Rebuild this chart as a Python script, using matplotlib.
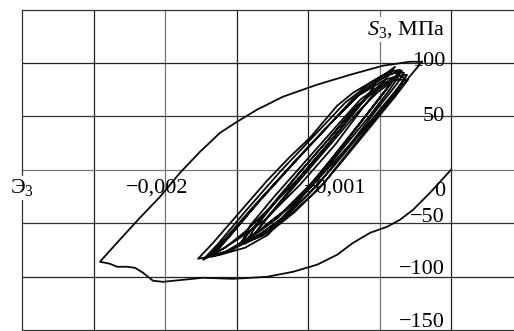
import numpy as np
import matplotlib
matplotlib.use("Agg")
import matplotlib.pyplot as plt

plt.rcParams['font.family'] = ['Liberation Serif', 'DejaVu Serif']
plt.rcParams['mathtext.fontset'] = 'custom'
plt.rcParams['mathtext.rm'] = 'Liberation Serif'
plt.rcParams['mathtext.it'] = 'Liberation Serif:italic'

# strain in units of 1e-3, stress in MPa
# first compression from zero, then reversal up to the peak
first_strain = [0.0, -0.147, -0.266, -0.357, -0.448, -0.566, -0.685, -0.797, -0.937,
                -1.105, -1.287, -1.524, -1.734, -1.874, -2.014, -2.084, -2.154,
                -2.210, -2.266, -2.336, -2.385, -2.455,
                -2.336, -2.175, -2.035, -1.895, -1.755, -1.615, -1.497, -1.357,
                -1.175, -0.937, -0.706, -0.476, -0.287, -0.203]
first_stress = [0.0, -21.5, -37.5, -46.8, -53.4, -59.0, -68.4, -79.6, -88.9,
                -95.5, -100.2, -102.1, -101.1, -103.0, -104.9, -103.9, -96.4,
                -91.8, -90.8, -90.8, -88.0, -86.1,
                -68.4, -44.9, -25.3, -2.8, 16.9, 34.6, 44.9, 56.2,
                68.4, 79.6, 88.9, 97.4, 101.1, 101.1]

# unloading from the peak and the following narrow cycles
cyc_strain = [
    -0.203, -0.308, -0.497, -0.804, -0.979, -1.280, -1.441, -1.615, -1.769,
    -1.664, -1.524, -1.287, -1.126, -0.986, -0.797, -0.685, -0.566, -0.448, -0.392,
    -0.462, -0.601, -0.811, -1.056, -1.301, -1.476, -1.650, -1.734,
    -1.629, -1.441, -1.196, -0.951, -0.741, -0.552, -0.427, -0.357,
    -0.413, -0.552, -0.741, -0.986, -1.210, -1.371, -1.580, -1.713,
    -1.587, -1.371, -1.126, -0.895, -0.692, -0.510, -0.392, -0.329,
    -0.378, -0.510, -0.692, -0.930, -1.140, -1.322, -1.441,
    -1.371, -1.231, -1.056, -0.846, -0.664, -0.497, -0.371, -0.308,
    -0.357, -0.483, -0.650, -0.881, -1.091, -1.266, -1.406,
    -1.322, -1.161, -0.972, -0.776, -0.622, -0.552, -0.531,
    -0.566, -0.692, -0.881, -1.077, -1.266, -1.441, -1.580, -1.685,
    -1.559, -1.350, -1.091, -0.860, -0.650, -0.462, -0.371, -0.322,
    -0.371, -0.469, -0.601, -0.811, -1.021, -1.196, -1.322, -1.490,
    -1.371, -1.182, -0.951, -0.741, -0.566, -0.413, -0.301,
    -0.392, -0.552, -0.741, -0.930, -1.126, -1.280, -1.406,
    -1.266, -1.056, -0.846, -0.650, -0.510, -0.413,
    -0.455, -0.601, -0.790, -1.000, -1.196, -1.350, -1.531, -1.671,
    -1.545, -1.322, -1.070, -0.832, -0.622, -0.441, -0.343,
    -0.399, -0.531, -0.720, -0.951, -1.175, -1.336, -1.462,
    -1.406, -1.231, -1.021, -0.811, -0.636, -0.483, -0.371,
    -0.441, -0.580, -0.776, -0.972, -1.154, -1.301,
]
cyc_stress = [
    101.1, 84.3, 54.3, 9.4, -15.9, -60.9, -73.0, -79.6, -83.3,
    -68.4, -46.8, -10.3, 12.2, 30.0, 59.9, 72.1, 81.5, 90.8, 96.4,
    84.3, 60.9, 23.4, -14.0, -46.8, -63.7, -78.6, -84.3,
    -69.3, -39.3, -1.9, 32.8, 62.7, 82.4, 91.8, 93.6,
    82.4, 58.1, 25.3, -14.0, -44.9, -60.9, -76.8, -81.5,
    -65.5, -32.8, 2.8, 35.6, 65.5, 84.3, 90.8, 90.8,
    80.5, 58.1, 26.2, -14.0, -41.2, -59.0, -69.3,
    -54.3, -30.9, -1.9, 30.0, 59.0, 78.7, 88.0, 88.9,
    78.7, 56.2, 28.1, -11.2, -39.3, -58.1, -66.5,
    -50.6, -24.3, 6.6, 37.5, 62.7, 74.9, 80.5,
    72.1, 51.5, 20.6, -9.4, -35.6, -58.1, -73.0, -80.5,
    -63.7, -30.9, 7.5, 41.2, 69.3, 84.3, 88.0, 86.1,
    76.8, 60.9, 39.3, 4.7, -26.2, -48.7, -61.8, -71.2,
    -52.4, -21.5, 14.0, 46.8, 70.2, 84.3, 84.3,
    68.4, 42.1, 11.2, -18.7, -42.1, -58.1, -65.5,
    -42.1, -9.4, 23.4, 54.3, 73.0, 82.4,
    74.9, 49.6, 16.9, -18.7, -46.8, -61.8, -74.9, -81.5,
    -61.8, -26.2, 11.2, 44.9, 73.0, 88.9, 92.7,
    84.3, 61.8, 30.0, -9.4, -39.3, -56.2, -67.4,
    -52.4, -24.3, 7.5, 39.3, 65.5, 80.5, 86.1,
    73.0, 48.7, 16.9, -15.0, -37.5, -52.4,
]

grid_x = [-2.5, -2.0, -1.5, -1.0, -0.5, 0.0]
grid_x_colors = ['#222222', '#777777', '#222222', '#222222', '#777777', '#222222']
grid_y = [100, 50, 0, -50, -100]
grid_y_colors = ['#222222', '#333333', '#777777', '#333333', '#222222']

x_tick_labels = ['−0,002', '−0,001']
x_tick_pos = [-2.052, -0.811]
y_tick_labels = ['100', '50', '0', '−50', '−100', '−150']
y_tick_pos = [101, 50, -20.6, -44.9, -93.6, -143.3]

fig = plt.figure(figsize=(5.14, 3.31), dpi=100)
ax = fig.add_axes([22 / 514, 1 / 331, 492 / 514, 320.5 / 331])
ax.set_xlim(-3.0, 0.44)
ax.set_ylim(-150, 150)
ax.set_xticks([])
ax.set_yticks([])

for x, c in zip(grid_x, grid_x_colors):
    ax.axvline(x, color=c, lw=0.9, zorder=1)
for y, c in zip(grid_y, grid_y_colors):
    ax.axhline(y, color=c, lw=0.9, zorder=1)

ax.spines['right'].set_visible(False)
for side in ['left', 'top', 'bottom']:
    ax.spines[side].set_color('#333333')
    ax.spines[side].set_linewidth(0.9)

ax.plot(first_strain, first_stress, color='#0a0a0a', lw=1.3, zorder=3,
        solid_joinstyle='round')
ax.plot(cyc_strain, cyc_stress, color='#0a0a0a', lw=1.3, zorder=3,
        solid_joinstyle='round')

fs = 16
for lab, x in zip(x_tick_labels, x_tick_pos):
    ax.text(x, -16.9, lab, fontsize=fs, ha='center', va='center', zorder=4)
for lab, y in zip(y_tick_labels, y_tick_pos):
    ax.text(-0.042, y, lab, fontsize=fs, ha='right', va='center', zorder=4)

ax.text(-0.042, 126.4, r'$S_3$, МПа', fontsize=fs, ha='right', va='baseline',
        zorder=4, bbox=dict(facecolor='white', edgecolor='none', pad=1.5))
ax.text(-2.997, -16.9, r'Э$_3$', fontsize=fs, ha='center', va='center',
        zorder=4, clip_on=False,
        bbox=dict(facecolor='white', edgecolor='none', pad=1.0))

fig.savefig('out.png', dpi=100, facecolor='white')
